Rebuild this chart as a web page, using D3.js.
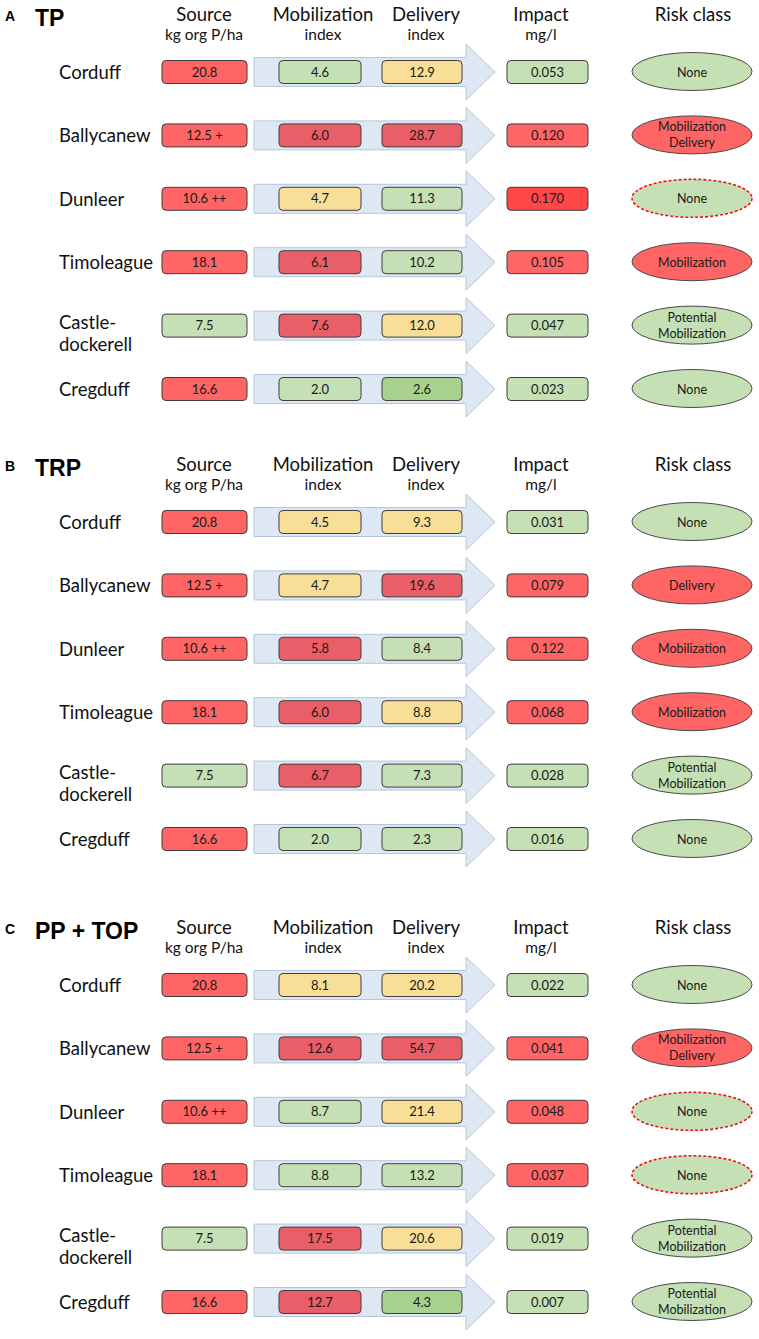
<!DOCTYPE html>
<html><head><meta charset="utf-8">
<script src="https://cdn.jsdelivr.net/npm/d3@7"></script>
<style>body{margin:0;background:#fff} svg{display:block}</style>
</head><body>
<script>
// ---------- DATA ----------
const panels = ["A", "B", "C"];
const panelTitles = ["TP", "TRP", "PP + TOP"];
const sites = ["Corduff", "Ballycanew", "Dunleer", "Timoleague", "Castle-\ndockerell", "Cregduff"];
const columns = ["source", "mob", "del", "impact", "risk"];
const headerMain = ["Source", "Mobilization", "Delivery", "Impact", "Risk class"];
const headerSub = ["kg org P/ha", "index", "index", "mg/l", ""];

const sourceLabels = ["20.8", "12.5 +", "10.6 ++", "18.1", "7.5", "16.6"];
const sourceLevels = ["high", "high", "high", "high", "low", "high"];

// Panel A: TP
const tpMob = [4.6, 6.0, 4.7, 6.1, 7.6, 2.0];
const tpMobLevel = ["low", "high", "mid", "high", "high", "low"];
const tpDel = [12.9, 28.7, 11.3, 10.2, 12.0, 2.6];
const tpDelLevel = ["mid", "high", "low", "low", "mid", "vlow"];
const tpImpact = [0.053, 0.120, 0.170, 0.105, 0.047, 0.023];
const tpImpactLevel = ["low", "high", "vhigh", "high", "low", "low"];
const tpRisk = ["None", "Mobilization\nDelivery", "None", "Mobilization", "Potential\nMobilization", "None"];
const tpRiskLevel = ["low", "high", "flag", "high", "low", "low"];

// Panel B: TRP
const trpMob = [4.5, 4.7, 5.8, 6.0, 6.7, 2.0];
const trpMobLevel = ["mid", "mid", "high", "high", "high", "low"];
const trpDel = [9.3, 19.6, 8.4, 8.8, 7.3, 2.3];
const trpDelLevel = ["mid", "high", "low", "mid", "low", "low"];
const trpImpact = [0.031, 0.079, 0.122, 0.068, 0.028, 0.016];
const trpImpactLevel = ["low", "high", "high", "high", "low", "low"];
const trpRisk = ["None", "Delivery", "Mobilization", "Mobilization", "Potential\nMobilization", "None"];
const trpRiskLevel = ["low", "high", "high", "high", "low", "low"];

// Panel C: PP + TOP
const ppMob = [8.1, 12.6, 8.7, 8.8, 17.5, 12.7];
const ppMobLevel = ["mid", "high", "low", "low", "high", "high"];
const ppDel = [20.2, 54.7, 21.4, 13.2, 20.6, 4.3];
const ppDelLevel = ["mid", "high", "mid", "low", "mid", "vlow"];
const ppImpact = [0.022, 0.041, 0.048, 0.037, 0.019, 0.007];
const ppImpactLevel = ["low", "high", "high", "high", "low", "low"];
const ppRisk = ["None", "Mobilization\nDelivery", "None", "None", "Potential\nMobilization", "Potential\nMobilization"];
const ppRiskLevel = ["low", "high", "flag", "flag", "low", "low"];

const panelData = [
  {mob: tpMob, mobL: tpMobLevel, del: tpDel, delL: tpDelLevel, imp: tpImpact, impL: tpImpactLevel, risk: tpRisk, riskL: tpRiskLevel},
  {mob: trpMob, mobL: trpMobLevel, del: trpDel, delL: trpDelLevel, imp: trpImpact, impL: trpImpactLevel, risk: trpRisk, riskL: trpRiskLevel},
  {mob: ppMob, mobL: ppMobLevel, del: ppDel, delL: ppDelLevel, imp: ppImpact, impL: ppImpactLevel, risk: ppRisk, riskL: ppRiskLevel}
];

// ---------- STYLE / LAYOUT ----------
const W = 759, H = 1339;
const FONT = "Lato, 'Open Sans', sans-serif";
const svg = d3.select("body").append("svg").attr("width", W).attr("height", H);

const panelY = d3.scaleOrdinal().domain(panels).range([0, 450, 913]);
const rowY = d3.scalePoint().domain(sites).range([72, 389]);
const colX = d3.scaleOrdinal().domain(columns).range([204.5, 320, 422, 547.5, 692]);
const colW = d3.scaleOrdinal().domain(columns).range([85, 82, 80, 81, 120]);
const headX = d3.scaleOrdinal().domain(columns).range([204, 323, 426, 541, 693]);

const outerColor = d3.scaleOrdinal().domain(["low", "mid", "high", "vhigh", "vlow"])
  .range(["#c5e0b4", "#f8de96", "#ff6565", "#ff4747", "#a9d18e"]);
const indexColor = d3.scaleOrdinal().domain(["low", "mid", "high", "vlow"])
  .range(["#c5e0b4", "#f8de96", "#ea5e68", "#a9d18e"]);
const riskColor = d3.scaleOrdinal().domain(["low", "high", "flag"])
  .range(["#c5e0b4", "#ff6565", "#c5e0b4"]);

const fmtIdx = d3.format(".1f"), fmtImp = d3.format(".3f");
const BH = 23;

panels.forEach((p, pi) => {
  const g = svg.append("g").attr("transform", `translate(0,${panelY(p)})`);
  const D = panelData[pi];

  // Letter + title
  g.append("text").attr("x", 5).attr("y", 21).text(p)
    .style("font-family", "'Liberation Sans', Arial, sans-serif").style("font-weight", "bold").style("font-size", "14px");
  g.append("text").attr("x", 35).attr("y", 26).text(panelTitles[pi])
    .style("font-family", "'Liberation Sans', Arial, sans-serif").style("font-weight", "bold").style("font-size", "23px");

  // Headers
  columns.forEach((c, ci) => {
    g.append("text").attr("x", headX(c)).attr("y", 21).attr("text-anchor", "middle")
      .text(headerMain[ci]).style("font-family", FONT).style("font-size", "18.5px").style("fill", "#111");
    if (headerSub[ci]) g.append("text").attr("x", headX(c)).attr("y", 40).attr("text-anchor", "middle")
      .text(headerSub[ci]).style("font-family", FONT).style("font-size", "15.5px").style("fill", "#111");
  });

  sites.forEach((s, i) => {
    const cy = rowY(s);
    const rg = g.append("g");
    // site name
    const lines = s.split("\n");
    const nt = rg.append("text").attr("x", 59).style("font-family", FONT).style("font-size", "18.5px").style("fill", "#111");
    if (lines.length === 1) {
      nt.attr("y", cy + 7).text(lines[0]);
    } else {
      lines.forEach((l, li) => nt.append("tspan").attr("x", 59).attr("y", cy + 3 + li * 22).text(l));
    }

    // arrow
    const x0 = 254, x1 = 466, x2 = 495, bh = 14.5, hh = 28;
    const ap = d3.path();
    ap.moveTo(x0, cy - bh); ap.lineTo(x1, cy - bh); ap.lineTo(x1, cy - hh); ap.lineTo(x2, cy);
    ap.lineTo(x1, cy + hh); ap.lineTo(x1, cy + bh); ap.lineTo(x0, cy + bh); ap.closePath();
    rg.append("path").attr("d", ap.toString()).attr("fill", "#dde8f4").attr("stroke", "#b7c7db").attr("stroke-width", 1);

    const boxes = [
      {c: "source", label: sourceLabels[i], fill: outerColor(sourceLevels[i])},
      {c: "mob", label: fmtIdx(D.mob[i]), fill: indexColor(D.mobL[i])},
      {c: "del", label: fmtIdx(D.del[i]), fill: indexColor(D.delL[i])},
      {c: "impact", label: fmtImp(D.imp[i]), fill: outerColor(D.impL[i])}
    ];
    boxes.forEach(b => {
      const w = colW(b.c);
      rg.append("rect").attr("x", colX(b.c) - w / 2).attr("y", cy - BH / 2).attr("width", w).attr("height", BH)
        .attr("rx", 4).attr("fill", b.fill).attr("stroke", "#3f3f3f").attr("stroke-width", 1);
      rg.append("text").attr("x", colX(b.c)).attr("y", cy + 4.5).attr("text-anchor", "middle")
        .text(b.label).style("font-family", FONT).style("font-size", "13px").style("fill", "#1a1a1a");
    });

    // risk ellipse
    const lvl = D.riskL[i];
    const el = rg.append("ellipse").attr("cx", colX("risk")).attr("cy", cy - 0.5).attr("rx", 60).attr("ry", 19)
      .attr("fill", riskColor(lvl));
    if (lvl === "flag") el.attr("stroke", "#e8131b").attr("stroke-width", 1.6).attr("stroke-dasharray", "3,2");
    else el.attr("stroke", "#4a4a4a").attr("stroke-width", 1);
    const rl = D.risk[i].split("\n");
    const rt = rg.append("text").attr("text-anchor", "middle").style("font-family", FONT).style("font-size", "12.5px").style("fill", "#1a1a1a");
    if (rl.length === 1) rt.attr("x", colX("risk")).attr("y", cy + 4.5).text(rl[0]);
    else rl.forEach((l, li) => rt.append("tspan").attr("x", colX("risk")).attr("y", cy - 4 + li * 16).text(l));
  });
});
</script>
</body></html>
